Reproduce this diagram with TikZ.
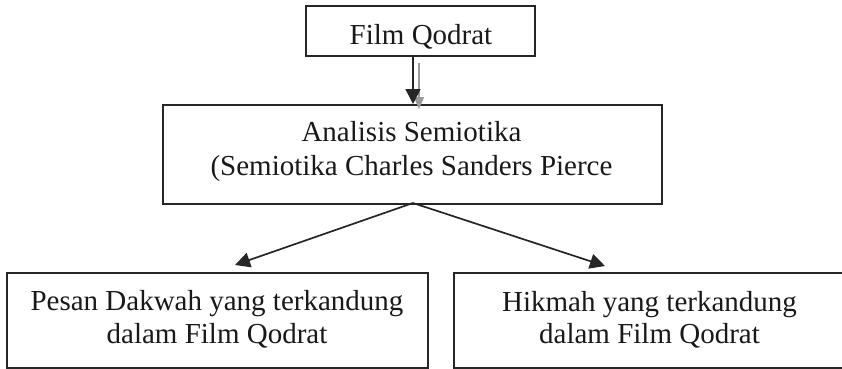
\documentclass[tikz,border=0pt]{standalone}
\usepackage{fontspec}
\setmainfont{Liberation Serif}
\usetikzlibrary{arrows.meta}
\begin{document}
\begin{tikzpicture}[x=1pt,y=-1pt,
  box/.style={draw=black!85, line width=1.6pt, rectangle, inner sep=0pt, anchor=north west},
  txt/.style={font=\fontsize{29}{34}\selectfont, text=black!90, inner sep=0pt, anchor=base},
  arr/.style={draw=black!85, line width=1.7pt, -{Triangle[length=15pt,width=15pt]}},
  garr/.style={draw=black!40, line width=1.6pt, -{Triangle[length=12pt,width=10pt]}}
]
\useasboundingbox (0,0) rectangle (842,368);
% boxes
\node[box, minimum width=229pt, minimum height=50pt] (top) at (305,5) {};
\node[box, minimum width=499pt, minimum height=99pt] (mid) at (162,104) {};
\node[box, minimum width=421pt, minimum height=95pt] (bl) at (6,272) {};
\node[box, minimum width=400pt, minimum height=95pt] (br) at (453,272) {};
% texts
\node[txt] (t1) at (421,44) {Film Qodrat};
\node[txt] (m1) at (411.5,141) {Analisis Semiotika};
\node[txt] (m2) at (411.5,175) {(Semiotika Charles Sanders Pierce};
\node[txt] (l1) at (217,310) {Pesan Dakwah yang terkandung};
\node[txt] (l2) at (217,343) {dalam Film Qodrat};
\node[txt] (r1) at (649.5,311) {Hikmah yang terkandung};
\node[txt] (r2) at (649.5,343) {dalam Film Qodrat};
% connectors
\coordinate (gs) at (419,63);
\coordinate (ge) at (419,109);
\draw[garr] (gs) -- (ge);
\draw[arr] (top.south -| 413,0) -- (mid.north -| 413,0) ;
\coordinate (split) at (413,203);
\coordinate (lt) at (235,265);
\coordinate (rt) at (605,266);
\draw[arr] (split) -- (lt);
\draw[arr] (split) -- (rt);
\end{tikzpicture}
\end{document}
